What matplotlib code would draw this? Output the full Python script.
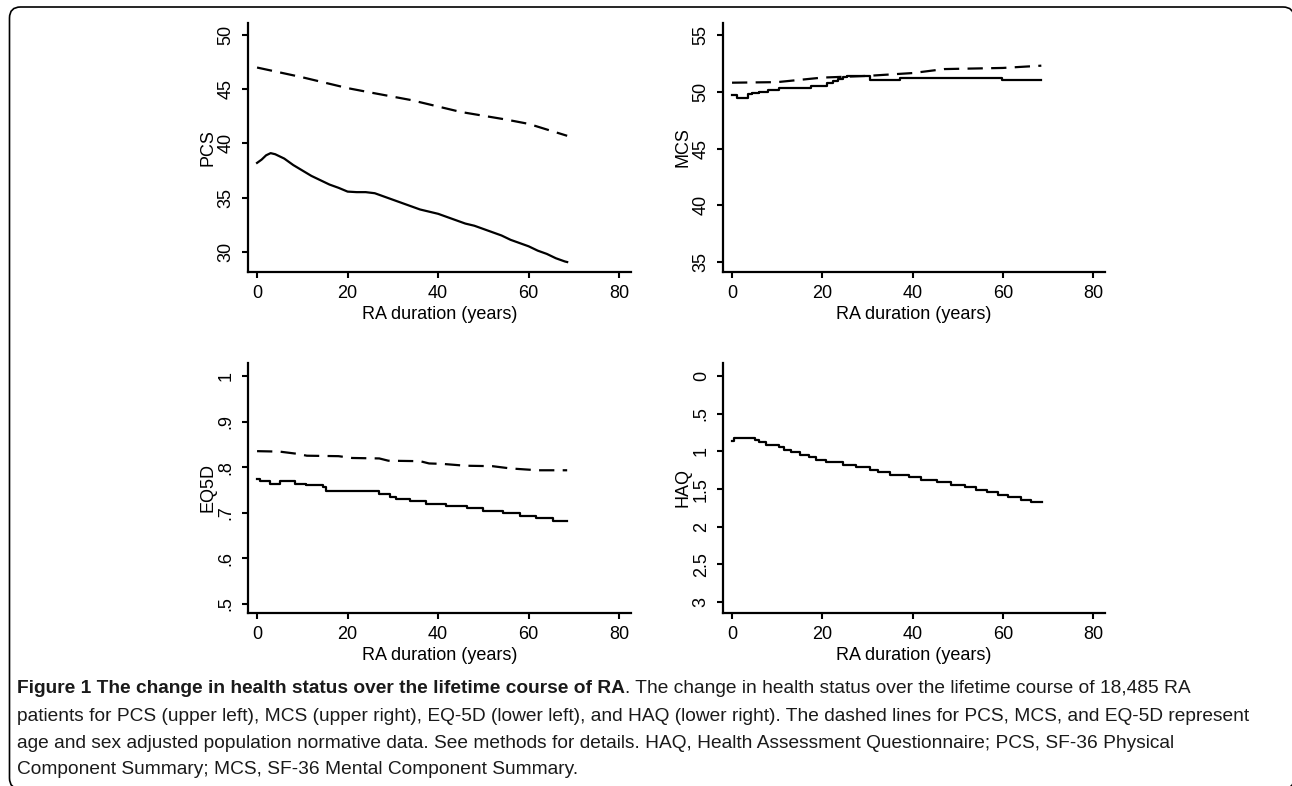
import matplotlib
matplotlib.use("Agg")
import matplotlib.pyplot as plt
import matplotlib.patches as mpatches
from matplotlib import font_manager
from matplotlib.transforms import IdentityTransform

# ---- data ----
# PCS, RA patients (solid) and population norm (dashed)
pcs_years = [0, 1, 2, 3, 4, 6, 8, 10, 12, 14, 16, 18, 20, 22, 24, 26, 28, 30, 32, 34,
             36, 38, 40, 42, 44, 46, 48, 50, 52, 54, 56, 58, 60, 62, 64, 66, 68, 68.5]
pcs_ra = [38.2, 38.5, 38.9, 39.1, 39.0, 38.6, 38.0, 37.5, 37.0, 36.6, 36.2, 35.9, 35.55, 35.5,
          35.5, 35.4, 35.1, 34.8, 34.5, 34.2, 33.9, 33.7, 33.5, 33.2, 32.9, 32.6, 32.4, 32.1,
          31.8, 31.5, 31.1, 30.8, 30.5, 30.1, 29.8, 29.4, 29.1, 29.05]
pcs_norm_years = [0, 10, 20, 25, 34, 40, 45, 55, 60, 68.5]
pcs_norm = [47.0, 46.1, 45.1, 44.7, 44.0, 43.4, 42.9, 42.2, 41.8, 40.7]

# MCS
mcs_years = [0, 1, 3.5, 4.5, 6, 8, 10.5, 13, 17.5, 21, 22.3, 23.5, 24.5, 25.5, 30.5, 37.3, 59.7, 68.5]
mcs_ra = [49.7, 49.45, 49.8, 49.9, 50.0, 50.15, 50.3, 50.35, 50.55, 50.75, 50.95, 51.15,
          51.3, 51.35, 51.0, 51.25, 51.0, 51.0]
mcs_norm_years = [0, 10, 20, 30, 40, 47, 60, 68.5]
mcs_norm = [50.8, 50.85, 51.25, 51.4, 51.65, 52.0, 52.1, 52.3]

# EQ-5D
eq_years = [0, 0.6, 2.8, 5.0, 8.3, 10.9, 14.6, 15.3, 27.0, 29.3, 30.8, 33.7, 37.4, 41.8,
            46.3, 49.9, 54.4, 58.0, 61.7, 65.4, 68.5]
eq_ra = [0.774, 0.769, 0.763, 0.769, 0.763, 0.761, 0.756, 0.747, 0.741, 0.734, 0.730, 0.725,
         0.719, 0.714, 0.710, 0.704, 0.699, 0.693, 0.688, 0.682, 0.682]
eq_norm_years = [0, 5, 9, 11, 18, 21, 27, 29, 36, 38, 41, 46, 52, 56, 62, 68.5]
eq_norm = [0.835, 0.834, 0.829, 0.825, 0.824, 0.820, 0.819, 0.814, 0.813, 0.808, 0.807,
           0.803, 0.802, 0.797, 0.793, 0.793]

# HAQ
haq_years = [0, 0.5, 5, 6, 7.5, 10.5, 11.6, 13, 15, 17, 18.6, 20.9, 24.6, 27.5, 30.5, 32.3,
             34.9, 39.3, 41.9, 45.3, 48.6, 51.6, 54.1, 56.4, 58.9, 61.2, 64.1, 66.3, 68.6]
haq_ra = [0.856, 0.825, 0.847, 0.882, 0.913, 0.944, 0.979, 1.01, 1.046, 1.076, 1.11, 1.143,
          1.178, 1.209, 1.244, 1.279, 1.31, 1.341, 1.376, 1.407, 1.443, 1.474, 1.509, 1.544,
          1.575, 1.61, 1.641, 1.676, 1.676]

x_ticks = [0, 20, 40, 60, 80]
pcs_ticks = [30, 35, 40, 45, 50]
mcs_ticks = [35, 40, 45, 50, 55]
eq_ticks = [0.5, 0.6, 0.7, 0.8, 0.9, 1.0]
eq_ticklabels = [".5", ".6", ".7", ".8", ".9", "1"]
haq_ticks = [0, 0.5, 1, 1.5, 2, 2.5, 3]
haq_ticklabels = ["0", ".5", "1", "1.5", "2", "2.5", "3"]

caption_bold = "Figure 1 The change in health status over the lifetime course of RA"
caption_rest = ". The change in health status over the lifetime course of 18,485 RA"
caption_lines = [
    "patients for PCS (upper left), MCS (upper right), EQ-5D (lower left), and HAQ (lower right). The dashed lines for PCS, MCS, and EQ-5D represent",
    "age and sex adjusted population normative data. See methods for details. HAQ, Health Assessment Questionnaire; PCS, SF-36 Physical",
    "Component Summary; MCS, SF-36 Mental Component Summary.",
]

plt.rcParams['font.family'] = ['Liberation Sans', 'DejaVu Sans']
plt.rcParams['lines.scale_dashes'] = False

W, H = 1292, 786
fig = plt.figure(figsize=(W / 100, H / 100), dpi=100)


def px_rect(x0, y0, x1, y1):
    return [x0 / W, 1 - y1 / H, (x1 - x0) / W, (y1 - y0) / H]


def make_panel(rect, ylabel, ylim, yticks, yticklabels=None):
    ax = fig.add_axes(px_rect(*rect))
    for s in ['top', 'right']:
        ax.spines[s].set_visible(False)
    for s in ['left', 'bottom']:
        ax.spines[s].set_linewidth(1.6)
    ax.set_xlim(-2, 82.6)
    ax.set_ylim(*ylim)
    ax.set_xticks(x_ticks)
    ax.set_yticks(yticks)
    if yticklabels is not None:
        ax.set_yticklabels(yticklabels)
    ax.tick_params(direction='out', length=4.5, width=1.5, labelsize=13)
    ax.tick_params(axis='x', pad=5)
    ax.tick_params(axis='y', pad=5)
    for lab in ax.get_yticklabels():
        lab.set_rotation(90)
        lab.set_va('center')
    ax.set_xlabel("RA duration (years)", fontsize=13, labelpad=2.5)
    ax.set_ylabel(ylabel, fontsize=13, labelpad=1)
    return ax


dash = (11, 6)
lw = 1.6

ax1 = make_panel((248, 23, 631, 272), "PCS", (28.13, 51.11), pcs_ticks)
ax1.plot(pcs_norm_years, pcs_norm, color='black', lw=lw, dashes=dash)
ax1.plot(pcs_years, pcs_ra, color='black', lw=lw)

ax2 = make_panel((723, 23, 1105, 272), "MCS", (34.12, 56.06), mcs_ticks)
ax2.plot(mcs_norm_years, mcs_norm, color='black', lw=lw, dashes=dash)
ax2.plot(mcs_years, mcs_ra, color='black', lw=lw, drawstyle='steps-post')

ax3 = make_panel((248, 363, 631, 613), "EQ5D", (0.4794, 1.0287), eq_ticks, eq_ticklabels)
ax3.plot(eq_norm_years, eq_norm, color='black', lw=lw, dashes=dash)
ax3.plot(eq_years, eq_ra, color='black', lw=lw, drawstyle='steps-post')

ax4 = make_panel((723, 363, 1105, 613), "HAQ", (3.1436, -0.172), haq_ticks, haq_ticklabels)
ax4.plot(haq_years, haq_ra, color='black', lw=lw, drawstyle='steps-post')

# frame around figure + caption (runs off the right and bottom edges);
# white fill behind the axes keeps Agg from clipping the outline
frame = mpatches.FancyBboxPatch((9.5, -3), 1284.5, 782, boxstyle="round,pad=0,rounding_size=11",
                                transform=IdentityTransform(), facecolor='white', lw=1.2,
                                edgecolor='black', zorder=-1)
fig.add_artist(frame)

names = {f.name for f in font_manager.fontManager.ttflist}
cap_font = 'Liberation Sans Narrow' if 'Liberation Sans Narrow' in names else 'Liberation Sans'
renderer = fig.canvas.get_renderer()
probe = fig.text(0, 0, caption_lines[0], family=cap_font, size=10)
pw = probe.get_window_extent(renderer=renderer).width
probe.remove()
cap_size = 10 * (1256 - 17) / pw
cap_color = '#1a1a1a'

y_lines = [693, 721, 748, 774]
t = fig.text(17 / W, 1 - y_lines[0] / H, caption_bold, family=cap_font, size=cap_size,
             weight='bold', color=cap_color, va='baseline')
fig.add_artist(matplotlib.text.Annotation(caption_rest, xy=(1, 0), xycoords=t,
                                          va='bottom', ha='left', family=cap_font,
                                          size=cap_size, color=cap_color))
for yy, line in zip(y_lines[1:], caption_lines):
    fig.text(17 / W, 1 - yy / H, line, family=cap_font, size=cap_size, color=cap_color,
             va='baseline')

fig.savefig("out.png", dpi=100)
